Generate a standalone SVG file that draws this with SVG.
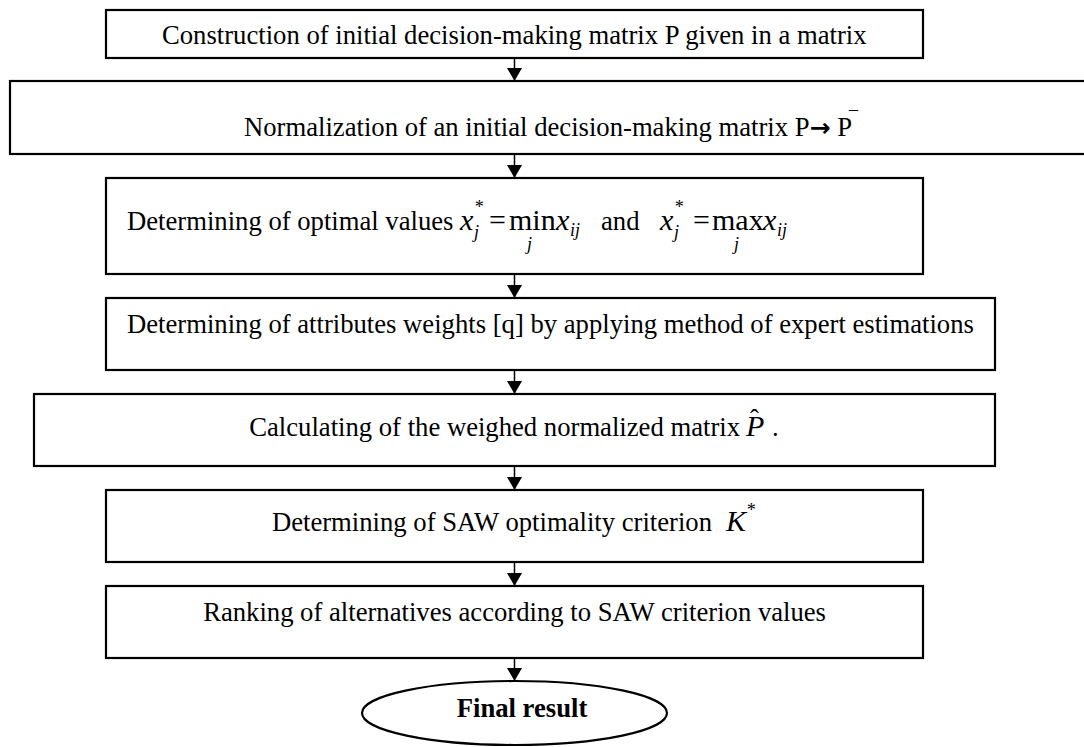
<svg xmlns="http://www.w3.org/2000/svg" width="1084" height="747" viewBox="0 0 1084 747">
<defs>
<style>
.box{fill:#fff;stroke:#000;stroke-width:2.2}
.t{font-family:"Liberation Serif","Times New Roman",serif;font-size:26.67px;fill:#000}
.m{font-family:"Liberation Serif","Times New Roman",serif;font-size:30px;fill:#000}
.i{font-style:italic}
.s{font-family:"Liberation Serif","Times New Roman",serif;font-size:18px;fill:#000;font-style:italic}
.bar{font-family:"Liberation Serif","Times New Roman",serif;font-size:18px;fill:#000}
.c{stroke:#000;stroke-width:1.5;fill:none}
</style>
<marker id="ah" markerWidth="13" markerHeight="15" refX="13" refY="7.5" orient="auto" markerUnits="userSpaceOnUse">
<path d="M0,0 L13,7.5 L0,15 z" fill="#000"/>
</marker>
</defs>
<rect width="1084" height="747" fill="#fff"/>
<g id="connectors">
<line class="c" x1="514.5" y1="58" x2="514.5" y2="81" marker-end="url(#ah)"/>
<line class="c" x1="514.5" y1="154" x2="514.5" y2="178" marker-end="url(#ah)"/>
<line class="c" x1="514.5" y1="274" x2="514.5" y2="298" marker-end="url(#ah)"/>
<line class="c" x1="514.5" y1="370" x2="514.5" y2="394" marker-end="url(#ah)"/>
<line class="c" x1="514.5" y1="466" x2="514.5" y2="490" marker-end="url(#ah)"/>
<line class="c" x1="514.5" y1="562" x2="514.5" y2="586" marker-end="url(#ah)"/>
<line class="c" x1="514.5" y1="658" x2="514.5" y2="681" marker-end="url(#ah)"/>
</g>
<g id="n1">
<rect class="box" x="106" y="10" width="817" height="48"/>
<text class="t" x="162" y="44">Construction of initial decision-making matrix P given in a matrix</text>
</g>
<g id="n2">
<rect class="box" x="10" y="81" width="1090" height="73"/>
<text class="t" x="244" y="136">Normalization of an initial decision-making matrix P<tspan font-family="DejaVu Sans, sans-serif" font-weight="bold" font-size="25">→</tspan> P</text>
<text class="bar" x="849" y="124">¯</text>
</g>
<g id="n3">
<rect class="box" x="106" y="178" width="817" height="96"/>
<text class="t" x="127" y="230">Determining of optimal values</text>
<text class="m i" x="460" y="230">x</text>
<text class="s" x="474" y="213">*</text>
<text class="s" x="474" y="238">j</text>
<text class="m" x="489" y="230">=</text>
<text class="m" x="509" y="230">min</text>
<text class="s" x="527" y="250">j</text>
<text class="m i" x="556" y="230">x</text>
<text class="s" x="570" y="236">ij</text>
<text class="t" x="601" y="230">and</text>
<text class="m i" x="660" y="230">x</text>
<text class="s" x="674" y="213">*</text>
<text class="s" x="674" y="238">j</text>
<text class="m" x="693" y="230">=</text>
<text class="m" x="712" y="230">max</text>
<text class="s" x="734" y="250">j</text>
<text class="m i" x="763" y="230">x</text>
<text class="s" x="777" y="236">ij</text>
</g>
<g id="n4">
<rect class="box" x="106" y="298" width="889" height="72"/>
<text class="t" x="127" y="333">Determining of attributes weights [q] by applying method of expert estimations</text>
</g>
<g id="n5">
<rect class="box" x="34" y="394" width="961" height="72"/>
<text class="t" x="740" y="436" text-anchor="end">Calculating of the weighed normalized matrix</text>
<text class="m i" x="746" y="436">P</text>
<text class="t" x="750" y="428">ˆ</text>
<text class="t" x="772" y="436">.</text>
</g>
<g id="n6">
<rect class="box" x="106" y="490" width="817" height="72"/>
<text class="t" x="712" y="531" text-anchor="end">Determining of SAW optimality criterion</text>
<text class="m i" x="726" y="531">K</text>
<text class="s" x="746" y="516">*</text>
</g>
<g id="n7">
<rect class="box" x="106" y="586" width="817" height="72"/>
<text class="t" x="826" y="621" text-anchor="end">Ranking of alternatives according to SAW criterion values</text>
</g>
<g id="n8">
<ellipse class="box" cx="514.5" cy="713" rx="152.5" ry="32"/>
<text class="t" x="522" y="717" text-anchor="middle" font-weight="bold">Final result</text>
</g>
</svg>
